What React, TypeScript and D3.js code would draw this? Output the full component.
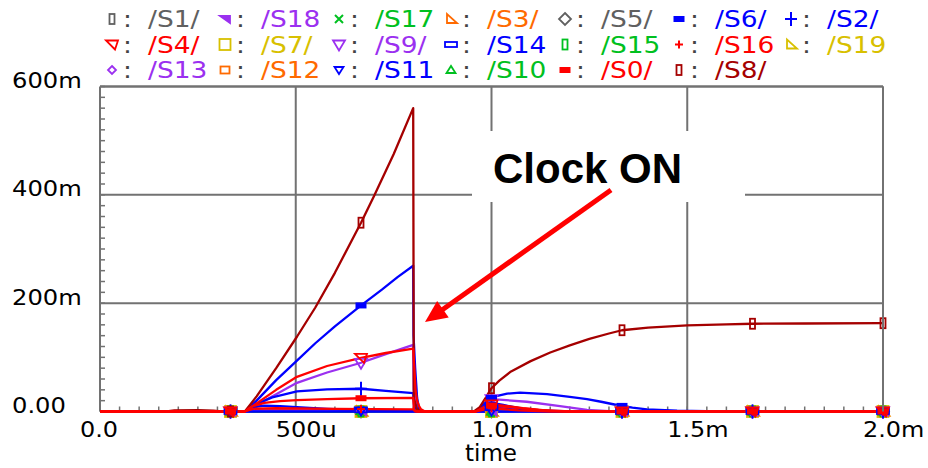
import React from 'react';
import * as d3 from 'd3';

type Pt = [number, number];

// time in ms, value in mV
const TIME_TICKS = [0, 0.5, 1, 1.5, 2];
const TIME_LABELS = ['0.0', '500u', '1.0m', '1.5m', '2.0m'];
const VOLT_TICKS = [0, 200, 400, 600];
const VOLT_LABELS = ['0.00', '200m', '400m', '600m'];
const MARKER_TIMES = [1 / 3, 2 / 3, 1, 4 / 3, 5 / 3, 2];

const SERIES_IDS = ['S1', 'S18', 'S17', 'S3', 'S5', 'S6', 'S2', 'S4', 'S7', 'S9', 'S14', 'S15', 'S16', 'S19', 'S13', 'S12', 'S11', 'S10', 'S0', 'S8'];
const LEGEND_LABELS = ['/S1/', '/S18', '/S17', '/S3/', '/S5/', '/S6/', '/S2/', '/S4/', '/S7/', '/S9/', '/S14', '/S15', '/S16', '/S19', '/S13', '/S12', '/S11', '/S10', '/S0/', '/S8/'];
const SERIES_COLORS = ['#606060', '#9b30f0', '#00c020', '#ff6a00', '#606060', '#0000ff', '#0000ff', '#ff0000', '#d8c000', '#9b30f0', '#0000ff', '#00c020', '#ff0000', '#d8c000', '#9b30f0', '#ff6a00', '#0000ff', '#00c020', '#ff0000', '#a50000'];
const SERIES_MARKERS = ['vrect', 'ltrif', 'x', 'rtri', 'diamond', 'hbar', 'plus', 'ltri', 'square', 'dtri', 'hrect', 'vrect', 'splus', 'rtri', 'sdiamond', 'ssquare', 'sdtri', 'utri', 'hbar', 'vrect'];
const DRAW_ORDER = ['S1', 'S5', 'S7', 'S19', 'S3', 'S12', 'S17', 'S15', 'S10', 'S18', 'S13', 'S9', 'S11', 'S14', 'S2', 'S6', 'S8', 'S16', 'S4', 'S0'];

const S8_WAVE: Pt[] = [[0, 0], [0.17, 0], [0.19, 2], [0.25, 2.5], [0.29, 1.5], [0.31, 0], [0.37, 0], [0.40, 28], [0.45, 80], [0.503, 138], [0.55, 192], [0.60, 256], [0.667, 349], [0.70, 398], [0.75, 475], [0.80, 560], [0.8015, 25], [0.81, 4], [0.83, 0], [0.955, 0], [0.97, 8], [0.985, 25], [1.0, 43], [1.02, 57], [1.05, 74], [1.1, 93], [1.15, 109], [1.2, 122], [1.25, 134], [1.3, 144], [1.333, 150], [1.4, 155], [1.5, 159], [1.6, 161], [1.667, 162], [1.8, 162.5], [2.0, 163]];
const S6_WAVE: Pt[] = [[0, 0], [0.37, 0], [0.40, 20], [0.45, 58], [0.503, 94], [0.55, 126], [0.60, 157], [0.667, 196], [0.72, 225], [0.76, 248], [0.80, 269], [0.8008, 141], [0.805, 80], [0.81, 25], [0.815, 5], [0.82, 0], [0.96, 0], [0.975, 10], [0.99, 20], [1.004, 27], [1.04, 33], [1.073, 35], [1.142, 32], [1.2, 27], [1.244, 23], [1.28, 18], [1.32, 12], [1.36, 7], [1.397, 4], [1.474, 1.5], [1.55, 0.5], [1.65, 0], [2, 0]];
const S4_WAVE: Pt[] = [[0, 0], [0.37, 0], [0.40, 15], [0.45, 40], [0.503, 64], [0.58, 84], [0.667, 99], [0.73, 108], [0.80, 116], [0.803, 80], [0.806, 40], [0.81, 20], [0.815, 10], [0.82, 4], [0.83, 0], [0.96, 0], [0.98, 8], [1.0, 13], [1.03, 11], [1.08, 6], [1.15, 1], [1.2, 0], [2, 0]];
const S9_WAVE: Pt[] = [[0, 0], [0.37, 0], [0.40, 12], [0.45, 32], [0.503, 53], [0.58, 72], [0.667, 90], [0.73, 106], [0.80, 123], [0.8012, 40], [0.81, 5], [0.82, 0], [0.96, 0], [0.98, 12], [1.0, 23], [1.09, 18], [1.175, 10], [1.244, 3], [1.3, 0.5], [1.35, 0], [2, 0]];
const S2_WAVE: Pt[] = [[0, 0], [0.37, 0], [0.40, 14], [0.44, 26], [0.503, 37], [0.58, 41], [0.667, 42], [0.73, 38], [0.80, 34], [0.802, 10], [0.81, 0], [0.96, 0], [0.985, 12], [1.0, 16], [1.03, 12], [1.08, 5], [1.15, 0], [2, 0]];
const S0_WAVE: Pt[] = [[0, 0], [0.37, 0], [0.39, 10], [0.42, 16], [0.46, 19], [0.503, 21], [0.58, 23], [0.667, 24.5], [0.80, 25], [0.802, 3], [0.81, 0], [0.96, 0], [0.99, 9], [1.0, 11], [1.05, 8], [1.12, 3], [1.2, 0], [2, 0]];
const S14_WAVE: Pt[] = [[0, 0], [0.37, 0], [0.39, 8], [0.42, 11], [0.46, 10], [0.503, 8], [0.58, 5], [0.667, 3], [0.75, 1.5], [0.80, 1], [0.81, 0], [0.96, 0], [0.99, 6], [1.0, 7], [1.06, 3], [1.15, 0], [2, 0]];
const S16_WAVE: Pt[] = [[0, 0], [0.37, 0], [0.39, 5], [0.45, 6], [0.6, 5], [0.8, 4], [0.805, 0], [0.96, 0], [0.99, 5], [1.0, 6], [1.07, 2], [1.15, 0], [2, 0]];
const S13_WAVE: Pt[] = [[0, 0], [0.37, 0], [0.40, 4], [0.5, 3], [0.8, 2], [0.81, 0], [0.97, 0], [1.0, 8], [1.1, 3], [1.2, 0], [2, 0]];
const S18_WAVE: Pt[] = [[0, 0], [0.37, 0], [0.41, 2], [0.6, 1], [0.81, 0], [2, 0]];
const S17_WAVE: Pt[] = [[0, 0], [0.37, 0], [0.40, 3], [0.5, 1.5], [0.7, 0.5], [0.8, 0], [2, 0]];
const S12_WAVE: Pt[] = [[0, 0], [0.37, 0], [0.41, 2.5], [0.55, 1.5], [0.8, 1], [0.81, 0], [2, 0]];
const S10_WAVE: Pt[] = [[0, 0], [0.37, 0], [0.42, 1.5], [0.6, 0.8], [0.81, 0], [2, 0]];
const FLAT_WAVE: Pt[] = [[0, 0], [2, 0]];

const WAVES: Record<string, Pt[]> = {
  S8: S8_WAVE, S6: S6_WAVE, S4: S4_WAVE, S9: S9_WAVE, S2: S2_WAVE, S0: S0_WAVE,
  S14: S14_WAVE, S16: S16_WAVE, S13: S13_WAVE, S18: S18_WAVE, S17: S17_WAVE,
  S12: S12_WAVE, S10: S10_WAVE,
};

function valueAt(pts: Pt[], t: number): number {
  for (let i = pts.length - 1; i > 0; i--) {
    const a = pts[i - 1], b = pts[i];
    if (t >= a[0] && t <= b[0]) {
      if (b[0] === a[0]) return b[1];
      return a[1] + (b[1] - a[1]) * (t - a[0]) / (b[0] - a[0]);
    }
  }
  return pts[pts.length - 1][1];
}

function Marker({ type, cx, cy, color }: { type: string; cx: number; cy: number; color: string }) {
  const sw = 1.8;
  const poly = (p: number[][], fill = 'none') => (
    <polygon points={p.map(([a, b]) => `${cx + a},${cy + b}`).join(' ')} fill={fill} stroke={color} strokeWidth={sw} />
  );
  switch (type) {
    case 'vrect': return <rect x={cx - 2.5} y={cy - 5} width={5} height={10} fill="none" stroke={color} strokeWidth={sw} />;
    case 'hbar': return <rect x={cx - 5.5} y={cy - 3} width={11} height={6} fill={color} />;
    case 'hrect': return <rect x={cx - 6} y={cy - 2.5} width={12} height={5} fill="none" stroke={color} strokeWidth={sw} />;
    case 'plus': return <path d={`M${cx - 6},${cy}H${cx + 6}M${cx},${cy - 7}V${cy + 7}`} stroke={color} strokeWidth={2} />;
    case 'splus': return <path d={`M${cx - 4},${cy}H${cx + 4}M${cx},${cy - 4}V${cy + 4}`} stroke={color} strokeWidth={2} />;
    case 'x': return <path d={`M${cx - 4},${cy - 4}L${cx + 4},${cy + 4}M${cx - 4},${cy + 4}L${cx + 4},${cy - 4}`} stroke={color} strokeWidth={2} />;
    case 'diamond': return poly([[0, -6], [6, 0], [0, 6], [-6, 0]]);
    case 'sdiamond': return poly([[0, -4], [4, 0], [0, 4], [-4, 0]]);
    case 'square': return <rect x={cx - 5.5} y={cy - 5.5} width={11} height={11} fill="none" stroke={color} strokeWidth={sw} />;
    case 'ssquare': return <rect x={cx - 4.5} y={cy - 3.5} width={9} height={7} fill="none" stroke={color} strokeWidth={sw} />;
    case 'dtri': return poly([[-6, -4], [6, -4], [0, 6]]);
    case 'sdtri': return poly([[-4.5, -3], [4.5, -3], [0, 4]]);
    case 'utri': return poly([[-4.5, 3], [4.5, 3], [0, -4]]);
    case 'ltri': return poly([[-6, -4], [6, -4], [3, 5]]);
    case 'ltrif': return poly([[-5, -3], [5, -3], [5, 4]], color);
    case 'rtri': return poly([[-4, -5], [-4, 4], [6, 4]]);
    default: return null;
  }
}

export default function App() {
  const left = 100, right = 883, top = 86.5, bottom = 411.5;
  const x = d3.scaleLinear().domain([0, 2]).range([left, right]);
  const y = d3.scaleLinear().domain([0, 600]).range([bottom, top]);
  const line = d3.line<Pt>().x(d => x(d[0])).y(d => y(d[1]));
  const gridColor = '#727272';
  const font = "'DejaVu Sans', Verdana, sans-serif";

  const xMinor = d3.range(0, 2.0001, 0.05);
  const yMinor = d3.range(0, 600.001, 20);

  const colX = [112, 225, 339, 451, 565, 679, 791];
  const rowBase = [27, 52.5, 78];

  // arrow
  const tail = { x: 611, y: 190 }, tip = { x: 425, y: 322 };
  const dx = tip.x - tail.x, dy = tip.y - tail.y, len = Math.hypot(dx, dy);
  const ux = dx / len, uy = dy / len;
  const headL = 22, headW = 10;
  const bx = tip.x - ux * headL, by = tip.y - uy * headL;
  const nx = -uy, ny = ux;

  return (
    <svg width={928} height={468} style={{ position: 'absolute', left: 0, top: 0, background: '#fff' }}>
      <rect x={0} y={0} width={928} height={468} fill="#fff" />
      {/* grid */}
      {TIME_TICKS.slice(1).map(t => (
        <line key={'gx' + t} x1={x(t)} x2={x(t)} y1={top} y2={bottom} stroke={gridColor} strokeWidth={2} />
      ))}
      {VOLT_TICKS.slice(1).map(v => (
        <line key={'gy' + v} x1={left} x2={right} y1={y(v)} y2={y(v)} stroke={gridColor} strokeWidth={2} />
      ))}
      {/* minor ticks */}
      {xMinor.map(t => (
        <line key={'mx' + t} x1={x(t)} x2={x(t)} y1={bottom} y2={bottom - 5} stroke={gridColor} strokeWidth={1.5} />
      ))}
      {yMinor.map(v => (
        <line key={'my' + v} x1={left} x2={left + 5} y1={y(v)} y2={y(v)} stroke={gridColor} strokeWidth={1.5} />
      ))}
      <line x1={left} x2={left} y1={top} y2={bottom} stroke={gridColor} strokeWidth={2} />
      <line x1={left} x2={right} y1={bottom} y2={bottom} stroke={gridColor} strokeWidth={2} />

      {/* axis labels */}
      {VOLT_TICKS.map((v, i) => (
        <text key={'yl' + v} transform={`translate(12,${y(v) + 1.5}) scale(1.1,1)`} fontFamily={font} fontSize={22} fill="#000">{VOLT_LABELS[i]}</text>
      ))}
      {TIME_TICKS.map((t, i) => (
        <text key={'xl' + t} transform={`translate(${x(t) - 20},437) scale(1.14,1)`} fontFamily={font} fontSize={21} fill="#000">{TIME_LABELS[i]}</text>
      ))}
      <text x={465} y={461} fontFamily={font} fontSize={23} fill="#000">time</text>

      {/* curves */}
      {DRAW_ORDER.map(id => {
        const i = SERIES_IDS.indexOf(id);
        const pts = WAVES[id] || FLAT_WAVE;
        return (
          <path key={'c' + id} d={line(pts) || ''} fill="none" stroke={SERIES_COLORS[i]} strokeWidth={2.3} strokeLinejoin="round" />
        );
      })}
      {/* markers */}
      {DRAW_ORDER.map(id => {
        const i = SERIES_IDS.indexOf(id);
        const pts = WAVES[id] || FLAT_WAVE;
        return (
          <g key={'m' + id}>
            {MARKER_TIMES.map(t => (
              <Marker key={t} type={SERIES_MARKERS[i]} cx={x(t)} cy={y(valueAt(pts, t))} color={SERIES_COLORS[i]} />
            ))}
          </g>
        );
      })}
      {/* right/top border */}
      <line x1={left} x2={right} y1={top} y2={top} stroke={gridColor} strokeWidth={2} />
      <line x1={right} x2={right} y1={top} y2={bottom} stroke={gridColor} strokeWidth={2} />

      {/* legend */}
      {SERIES_IDS.map((id, i) => {
        const row = Math.floor(i / 7), col = i % 7;
        const cx = colX[col], base = rowBase[row];
        return (
          <g key={'lg' + id}>
            <Marker type={SERIES_MARKERS[i]} cx={cx} cy={base - 8} color={SERIES_COLORS[i]} />
            <text transform={`translate(${cx + 11},${base}) scale(1.15,1)`} fontFamily={font} fontSize={23} fill="#444">:</text>
            <text transform={`translate(${cx + 36},${base}) scale(1.15,1)`} fontFamily={font} fontSize={23} fill={SERIES_COLORS[i]}>{LEGEND_LABELS[i]}</text>
          </g>
        );
      })}

      {/* annotation */}
      <rect x={472} y={131} width={273} height={71} fill="#fff" />
      <text x={493} y={183} fontFamily="'Liberation Sans', Arial, sans-serif" fontWeight="bold" fontSize={42} fill="#000">Clock ON</text>
      <line x1={tail.x} y1={tail.y} x2={bx + ux * 2} y2={by + uy * 2} stroke="#ff0000" strokeWidth={5} />
      <polygon points={`${tip.x},${tip.y} ${bx + nx * headW},${by + ny * headW} ${bx - nx * headW},${by - ny * headW}`} fill="#ff0000" />
    </svg>
  );
}
